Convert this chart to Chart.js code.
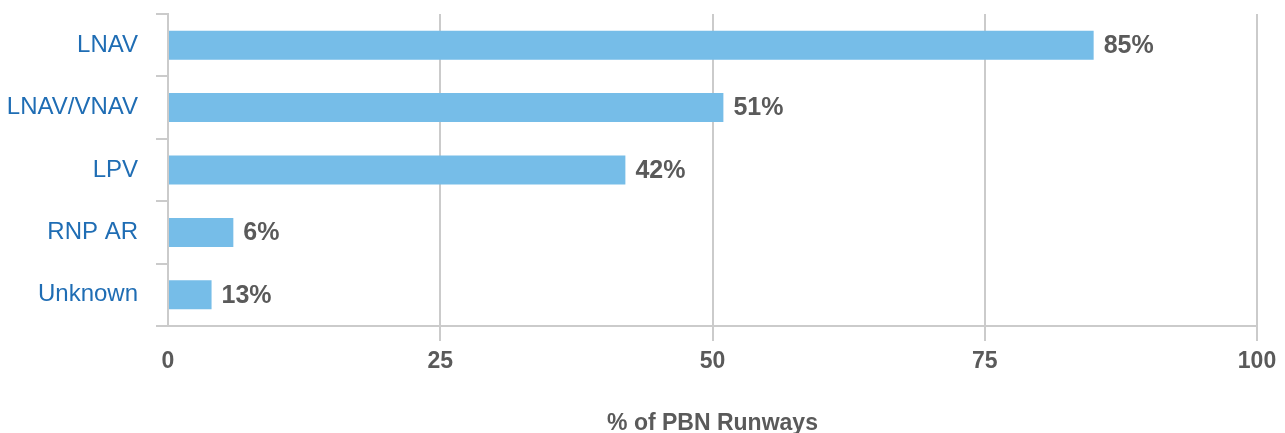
<!DOCTYPE html>
<html lang="en">
  <head>
    <title>PBN Runways</title>
    <meta charset="utf-8">
    <script type="text/javascript" src="https://cdn.jsdelivr.net/npm/chart.js@4/dist/chart.umd.min.js"></script>
    <style>
      html, body { margin: 0; padding: 0; background: #fff; }
      #wrap { width: 1285px; height: 433px; }
    </style>
  </head>
  <body>
    <div id="wrap"><canvas id="chart_pbn"></canvas></div>

    <script type="text/javascript">
      // chart data
      const categories = ["LNAV", "LNAV/VNAV", "LPV", "RNP AR", "Unknown"];
      const barValues = [85, 51, 42, 6, 4];
      // labels printed next to the bars (as in the source, "Unknown" says 13%)
      const barLabels = ["85%", "51%", "42%", "6%", "13%"];
      const xTicks = [0, 25, 50, 75, 100];
      const axisTitle = "% of PBN Runways";

      const gridColor = "#cbcbcb";
      const grayText = "#5a5a5a";
      const blueText = "#1f6db4";

      // draws the value text to the right of each bar
      const valueLabels = {
        id: "valueLabels",
        afterDatasetsDraw(chart) {
          const ctx = chart.ctx;
          const meta = chart.getDatasetMeta(0);
          ctx.save();
          ctx.font = "bold 25px 'Liberation Sans', Arial, sans-serif";
          ctx.fillStyle = grayText;
          ctx.textAlign = "left";
          ctx.textBaseline = "middle";
          meta.data.forEach((bar, i) => {
            ctx.fillText(barLabels[i], bar.x + 10, bar.y + 1);
          });
          ctx.restore();
        }
      };

      chart = new Chart("chart_pbn", {
        type: "bar",
        data: {
          labels: categories,
          datasets: [{
            data: barValues,
            backgroundColor: "#76bde8",
            borderWidth: 0,
            categoryPercentage: 1.0,
            barPercentage: 0.465
          }]
        },
        options: {
          indexAxis: "y",
          responsive: true,
          maintainAspectRatio: false,
          animation: false,
          layout: { padding: { top: 14, right: 28, left: 0, bottom: 0 } },
          plugins: {
            legend: { display: false },
            tooltip: { enabled: false }
          },
          scales: {
            x: {
              min: 0,
              max: 100,
              afterBuildTicks: (s) => { s.ticks = xTicks.map(v => ({ value: v })); },
              afterFit: (s) => { s.height = 107; },
              grid: {
                color: gridColor,
                lineWidth: 2,
                drawTicks: true,
                tickLength: 15,
                tickColor: (c) => (c.tick && c.tick.value === 0) ? "rgba(0,0,0,0)" : gridColor
              },
              border: { display: true, color: gridColor, width: 2 },
              ticks: {
                color: grayText,
                padding: 7,
                font: { family: "'Liberation Sans', Arial, sans-serif", size: 23, weight: "bold" }
              },
              title: {
                display: true,
                text: axisTitle,
                color: grayText,
                padding: { top: 0, bottom: -2 },
                font: { family: "'Liberation Sans', Arial, sans-serif", size: 23, weight: "bold", lineHeight: 1 }
              }
            },
            y: {
              afterFit: (s) => { s.width = 168; s.paddingTop = 0; s.paddingBottom = 0; },
              grid: {
                offset: true,
                drawOnChartArea: false,
                drawTicks: true,
                tickLength: 12,
                color: gridColor,
                lineWidth: 2
              },
              border: { display: true, color: gridColor, width: 2 },
              ticks: {
                color: blueText,
                padding: 18,
                font: { family: "'Liberation Sans', Arial, sans-serif", size: 24, weight: "normal" }
              }
            }
          }
        },
        plugins: [valueLabels]
      });
    </script>
  </body>
</html>
